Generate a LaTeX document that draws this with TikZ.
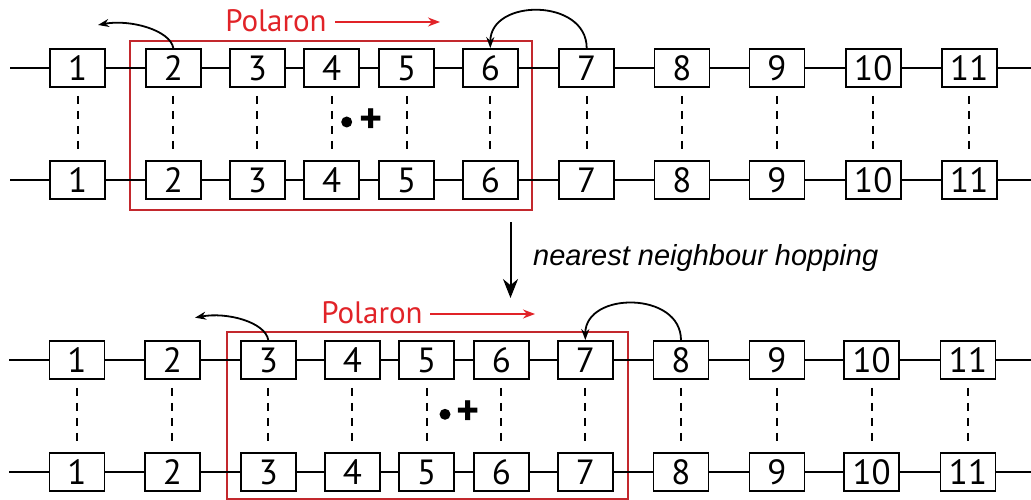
\documentclass[tikz,border=0pt]{standalone}
\usepackage{fontspec}
\setmainfont{PT Sans}
\newfontfamily\arialfont{Liberation Sans}
\usetikzlibrary{arrows.meta}
\definecolor{polred}{RGB}{225,35,40}
\definecolor{boxred}{RGB}{195,40,45}
\begin{document}
\begin{tikzpicture}[x=1pt,y=-1pt,
  site/.style={draw, line width=1.8pt, minimum width=55pt, minimum height=38pt, inner sep=0pt, font=\fontsize{35}{35}\selectfont},
  chain/.style={line width=1.8pt},
  rung/.style={line width=1.8pt, dash pattern=on 8pt off 7pt, shorten <=8pt, shorten >=8pt},
  hop/.style={line width=1.8pt, -{Stealth[length=11pt,width=8pt]}},
  bighop/.style={line width=2pt, -{Stealth[length=19pt,width=15pt]}},
  polbox/.style={draw=boxred, line width=2pt},
  pollabel/.style={text=polred, font=\fontsize{31}{31}\selectfont},
  polarrow/.style={draw=polred, line width=1.5pt, -{Stealth[length=12pt,width=9pt]}},
  charge/.style={font=\bfseries\fontsize{44}{44}\selectfont, inner sep=0pt}]
\useasboundingbox (0,0) rectangle (1031,500);

% ---------- upper panel ----------
\draw[polbox] (130,40.7) rectangle (531.7,210);
\coordinate (tL) at (10,68);   \coordinate (tR) at (1031,68);
\coordinate (uL) at (10,180);  \coordinate (uR) at (1031,180);
\foreach \x [count=\i] in {77.7,173.3,257.3,331.7,406.7,490.3,586.7,682,777,873.3,969.3}{
  \node[site] (t\i) at (\x,68) {\i};
  \node[site] (u\i) at (\x,180) {\i};
  \draw[rung] (t\i) -- (u\i);
}
\draw[chain] (tL) -- (t1);  \draw[chain] (t11) -- (tR);
\draw[chain] (uL) -- (u1);  \draw[chain] (u11) -- (uR);
\foreach \i [evaluate=\i as \j using int(\i+1)] in {1,...,10}{
  \draw[chain] (t\i) -- (t\j);
  \draw[chain] (u\i) -- (u\j);
}

\node[pollabel] (polA) at (276,21) {Polaron};
\coordinate (paS) at (335,22); \coordinate (paE) at (440,22);
\draw[polarrow] (paS) -- (paE);

\fill (346.7,122) circle (5.5pt);
\node[charge] (plusA) at (371,121) {+};

\coordinate (tipA) at (98,25);
\draw[hop] (t2.north) .. controls +(-3,-18) and +(32,-6) .. (tipA);
\draw[hop] (t7.north) .. controls +(0,-50) and +(0,-50) .. (t6.north);

% ---------- transition ----------
\coordinate (hopS) at (510.5,222); \coordinate (hopE) at (510.5,298);
\draw[bighop] (hopS) -- (hopE);
\node[anchor=base west, inner sep=0pt, font=\arialfont\itshape\fontsize{29}{29}\selectfont] (hoptext) at (533,265) {nearest neighbour hopping};

% ---------- lower panel ----------
\draw[polbox] (226.7,331.7) rectangle (627.7,499);
\coordinate (pL) at (9,360);   \coordinate (pR) at (1031,360);
\coordinate (qL) at (9,472);   \coordinate (qR) at (1031,472);
\foreach \x [count=\i] in {77,172.3,268.3,352.3,426.7,501.3,585.3,681,777,871.7,968}{
  \node[site] (p\i) at (\x,360) {\i};
  \node[site] (q\i) at (\x,472) {\i};
  \draw[rung] (p\i) -- (q\i);
}
\draw[chain] (pL) -- (p1);  \draw[chain] (p11) -- (pR);
\draw[chain] (qL) -- (q1);  \draw[chain] (q11) -- (qR);
\foreach \i [evaluate=\i as \j using int(\i+1)] in {1,...,10}{
  \draw[chain] (p\i) -- (p\j);
  \draw[chain] (q\i) -- (q\j);
}

\node[pollabel] (polB) at (372,313) {Polaron};
\coordinate (pbS) at (430,314); \coordinate (pbE) at (535,314);
\draw[polarrow] (pbS) -- (pbE);

\fill (445,414.3) circle (5.5pt);
\node[charge] (plusB) at (468.5,413.3) {+};

\coordinate (tipB) at (195,317.7);
\draw[hop] (p3.north) .. controls +(-3,-18) and +(32,-6) .. (tipB);
\draw[hop] (p8.north) .. controls +(0,-49) and +(0,-49) .. (p7.north);
\end{tikzpicture}
\end{document}
